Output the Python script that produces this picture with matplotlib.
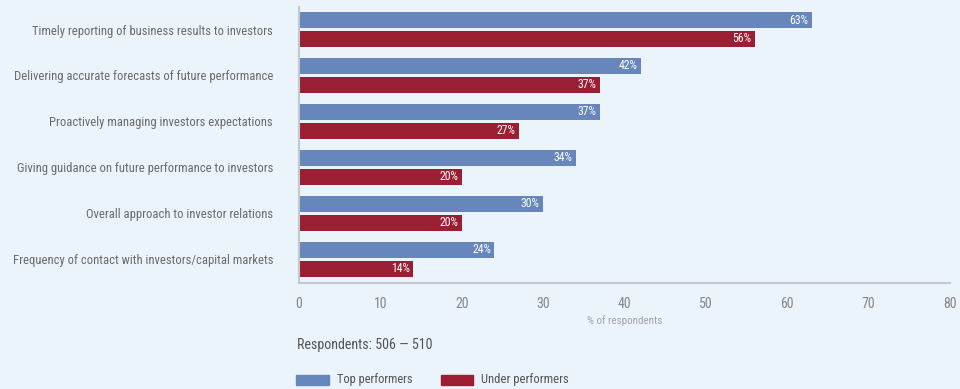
import matplotlib.pyplot as plt
import matplotlib.patches as mpatches
from matplotlib import font_manager
import numpy as np

# data
categories = [
    "Timely reporting of business results to investors",
    "Delivering accurate forecasts of future performance",
    "Proactively managing investors expectations",
    "Giving guidance on future performance to investors",
    "Overall approach to investor relations",
    "Frequency of contact with investors/capital markets",
]
top_performers = [63, 42, 37, 34, 30, 24]
under_performers = [56, 37, 27, 20, 20, 14]
x_ticks = [0, 10, 20, 30, 40, 50, 60, 70, 80]

bg = "#EBF3FB"
blue = "#6786BB"
red = "#9B1F33"

names = {f.name for f in font_manager.fontManager.ttflist}
narrow = [n for n in ["Roboto Condensed", "Barlow Condensed", "Archivo Narrow",
                      "Asap Condensed", "Liberation Sans Narrow"] if n in names]
plt.rcParams["font.family"] = narrow[:1] + ["Liberation Sans", "DejaVu Sans"]


def fit(fig, t, width_px):
    # scale a text so it is width_px wide
    r = fig.canvas.get_renderer()
    w = t.get_window_extent(r).width
    t.set_fontsize(t.get_fontsize() * width_px / w)


def main():
    fig = plt.figure(figsize=(9.6, 3.89), dpi=100, facecolor=bg)
    ax = fig.add_axes([299 / 960, 1 - 283 / 389, 651 / 960, 276 / 389])
    ax.set_facecolor(bg)

    y = np.arange(len(categories))
    h = 0.348
    off = 0.2065
    ax.barh(y - off, top_performers, height=h, color=blue)
    ax.barh(y + off, under_performers, height=h, color=red)

    for yi, v in zip(y, top_performers):
        ax.text(v - 0.4, yi - off, f"{v}%", color="white", ha="right", va="center",
                fontsize=8.5)
    for yi, v in zip(y, under_performers):
        ax.text(v - 0.4, yi + off, f"{v}%", color="white", ha="right", va="center",
                fontsize=8.5)

    ax.set_xlim(0, 80)
    ax.set_ylim(5.52, -0.49)
    ax.set_yticks(y)
    ax.set_yticklabels(categories, fontsize=9.5, color="#6b6b6b")
    ax.set_xticks(x_ticks)
    ax.set_xticklabels([str(t) for t in x_ticks], fontsize=10, color="#858585")
    ax.tick_params(axis="y", length=0, pad=18.7)
    ax.tick_params(axis="x", length=0, pad=10)

    for s in ["top", "right"]:
        ax.spines[s].set_visible(False)
    for s in ["left", "bottom"]:
        ax.spines[s].set_color("#c4c8cc")
        ax.spines[s].set_linewidth(1.5)

    fig.canvas.draw()
    r = fig.canvas.get_renderer()
    labels = ax.get_yticklabels()
    widest = max(t.get_window_extent(r).width for t in labels)
    for t in labels:
        t.set_fontsize(t.get_fontsize() * 261 / widest)

    t0 = fig.text(625 / 960, 1 - 321 / 389, "% of respondents", ha="center", va="center",
                  fontsize=7.5, color="#a0a4a8")
    fit(fig, t0, 75)
    t3 = fig.text(297 / 960, 1 - 345 / 389, "Respondents: 506 \u2014 510", ha="left",
                  va="center", fontsize=9.5, color="#555555")
    fit(fig, t3, 136)

    fig.patches.append(mpatches.Rectangle((296 / 960, 1 - 385 / 389), 33 / 960, 10 / 389,
                                          color=blue, transform=fig.transFigure))
    t1 = fig.text(337 / 960, 1 - 380 / 389, "Top performers", ha="left", va="center",
                  fontsize=9.5, color="#555555")
    fig.patches.append(mpatches.Rectangle((441 / 960, 1 - 385 / 389), 32 / 960, 10 / 389,
                                          color=red, transform=fig.transFigure))
    t2 = fig.text(481 / 960, 1 - 380 / 389, "Under performers", ha="left", va="center",
                  fontsize=9.5, color="#555555")
    fit(fig, t1, 76)
    fit(fig, t2, 88)

    fig.savefig("out.png", dpi=100, facecolor=bg)


if __name__ == "__main__":
    main()
